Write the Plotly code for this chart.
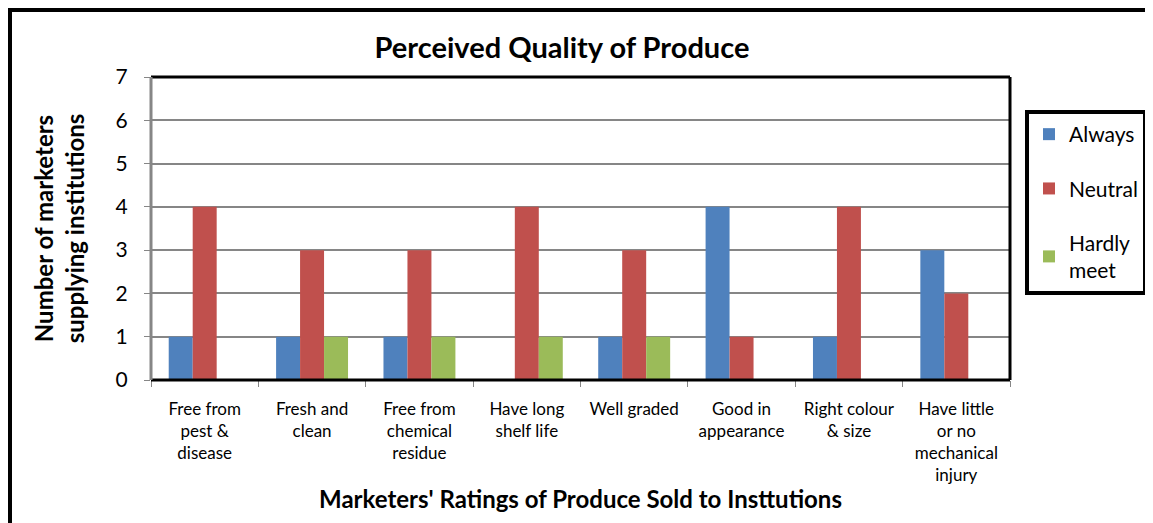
import plotly.graph_objects as go

categories = [
    "Free from<br>pest &<br>disease",
    "Fresh and<br>clean",
    "Free from<br>chemical<br>residue",
    "Have long<br>shelf life",
    "Well graded",
    "Good in<br>appearance",
    "Right colour<br>& size",
    "Have little<br>or no<br>mechanical<br>injury",
]
always = [1, 1, 1, 0, 1, 4, 1, 3]
neutral = [4, 3, 3, 4, 3, 1, 4, 2]
hardly_meet = [0, 1, 1, 1, 1, 0, 0, 0]

series = [
    ("Always", always, "#4F81BD"),
    ("Neutral", neutral, "#C0504D"),
    ("Hardly<br>meet", hardly_meet, "#9BBB59"),
]

FONT = "Lato"

fig = go.Figure()
for i, (name, vals, col) in enumerate(series):
    fig.add_trace(go.Bar(
        x=categories, y=vals, name=name,
        marker=dict(color=col, line=dict(width=0)),
        legendgroup=f"g{i}",
    ))

# page body has an 8px margin, so figure coordinates = screen - 8
OFF = 8
W, H = 1153 - OFF, 523 - OFF
L, R, T, B = 151 - OFF, 1010 - OFF, 77 - OFF, 380 - OFF
pw, ph = R - L, B - T

def px_x(x):
    return (x - OFF - L) / pw

def px_y(y):
    return (B - (y - OFF)) / ph

fig.update_layout(
    width=W, height=H,
    margin=dict(l=L, r=W - R, t=T, b=H - B, pad=0, autoexpand=False),
    paper_bgcolor="white", plot_bgcolor="white",
    barmode="group", bargap=0.33, bargroupgap=0,
    font=dict(family=FONT, color="black"),
    title=dict(text="<b>Perceived Quality of Produce</b>", x=(562 - OFF) / W, xanchor="center",
               y=1 - (48 - OFF) / H, yanchor="middle", font=dict(size=29, family=FONT)),
    showlegend=True,
    legend=dict(
        x=px_x(1025), y=px_y(110), xanchor="left", yanchor="top",
        bordercolor="black", borderwidth=4, bgcolor="white",
        font=dict(size=21, family=FONT), tracegroupgap=24,
        itemwidth=30,
    ),
    xaxis=dict(
        tickfont=dict(size=17, family=FONT), tickangle=0,
        ticks="outside", ticklen=6, tickcolor="#868686", tickwidth=1,
        ticklabelstandoff=17,
        tickson="boundaries", showgrid=False,
        showline=False,
        title=dict(text="<b>Marketers' Ratings of Produce Sold to Insttutions</b>",
                   font=dict(size=24, family=FONT), standoff=6),
        automargin=False,
    ),
    yaxis=dict(
        range=[0, 7], dtick=1, tickfont=dict(size=21, family=FONT),
        ticks="outside", ticklen=6, tickcolor="#868686", tickwidth=1,
        ticklabelstandoff=12,
        showgrid=True, gridcolor="#868686", gridwidth=1.5,
        showline=False, zeroline=False,
        title=dict(text="<b>Number of marketers<br>supplying institutions</b>",
                   font=dict(size=24, family=FONT), standoff=24),
        automargin=False,
    ),
)

shapes = [
    # plot area border
    dict(type="line", xref="paper", yref="paper", x0=0, x1=1, y0=1, y1=1, line=dict(color="black", width=3)),
    dict(type="line", xref="paper", yref="paper", x0=1, x1=1, y0=0, y1=1, line=dict(color="black", width=3)),
    dict(type="line", xref="paper", yref="paper", x0=0, x1=1, y0=0, y1=0, line=dict(color="black", width=3)),
    dict(type="line", xref="paper", yref="paper", x0=0, x1=0, y0=0, y1=1, line=dict(color="#868686", width=3)),
    # outer chart border (left and top)
    dict(type="line", xref="paper", yref="paper", x0=px_x(10), x1=px_x(10), y0=px_y(540), y1=px_y(8),
         line=dict(color="black", width=4)),
    dict(type="line", xref="paper", yref="paper", x0=px_x(8), x1=px_x(1170), y0=px_y(10), y1=px_y(10),
         line=dict(color="black", width=4)),
]
fig.update_layout(shapes=shapes)

fig.write_html("out.html")
